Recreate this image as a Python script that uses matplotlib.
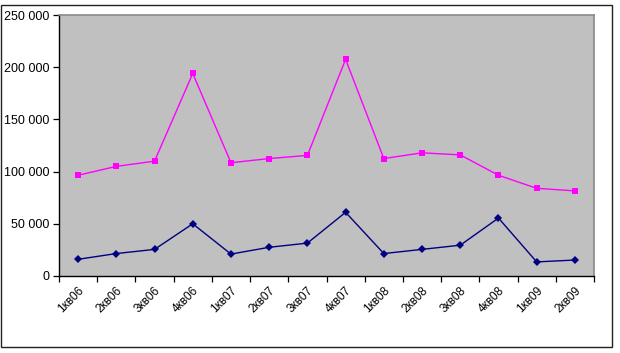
import numpy as np
import matplotlib.pyplot as plt
from matplotlib.patches import Rectangle
from matplotlib.ticker import FuncFormatter

plt.rcParams['font.family'] = ['Liberation Sans', 'DejaVu Sans']

quarters = ['1кв06', '2кв06', '3кв06', '4кв06',
            '1кв07', '2кв07', '3кв07', '4кв07',
            '1кв08', '2кв08', '3кв08', '4кв08',
            '1кв09', '2кв09']
series_top = [96500, 105000, 110000, 194000, 108500, 112500, 115500,
              207500, 112500, 118000, 116000, 96500, 84000, 81500]
series_bottom = [16000, 21500, 25500, 50000, 21000, 27500, 31500,
                 61000, 21500, 25500, 29500, 55500, 13500, 15300]
y_ticks = [0, 50000, 100000, 150000, 200000, 250000]

fig = plt.figure(figsize=(6.2, 3.53), dpi=100)
ax = fig.add_axes([59 / 620, 1 - 276 / 353, 535 / 620, 261 / 353])
ax.set_facecolor('#c0c0c0')

x = np.arange(len(quarters))
ax.plot(x, series_top, color='#ff00ff', lw=1, marker='s', ms=5,
        markeredgewidth=0)
ax.plot(x, series_bottom, color='#000080', lw=1, marker='D', ms=4.5,
        markeredgewidth=0)

ax.set_xlim(-0.5, len(quarters) - 0.5)
ax.set_ylim(0, 250000)
ax.set_yticks(y_ticks)
ax.yaxis.set_major_formatter(FuncFormatter(lambda v, p: f'{int(v):,}'.replace(',', ' ')))

# category ticks sit between the categories, labels centred on points
ax.set_xticks(np.arange(len(quarters) + 1) - 0.5)
ax.set_xticklabels([])
ax.set_xticks(x, minor=True)
ax.set_xticklabels(quarters, minor=True, rotation=45, ha='right',
                   va='top', rotation_mode='anchor', fontsize=8.5)
ax.tick_params(axis='x', which='minor', length=0, pad=6)
ax.tick_params(axis='x', which='major', length=4, direction='out',
               width=0.9, color='black')
ax.tick_params(axis='y', length=4, direction='out', width=0.9,
               labelsize=9, pad=3, color='black')

for side in ['top', 'right']:
    ax.spines[side].set_color('#8a8a8a')
    ax.spines[side].set_linewidth(1.2)
for side in ['left', 'bottom']:
    ax.spines[side].set_color('black')
    ax.spines[side].set_linewidth(1)

# chart frame
fig.patches.append(Rectangle((0.5 / 620, 1 - 347 / 353), 611 / 620, 342 / 353,
                             transform=fig.transFigure, fill=False,
                             edgecolor='#222222', lw=1))

plt.savefig('out.png', dpi=100)
